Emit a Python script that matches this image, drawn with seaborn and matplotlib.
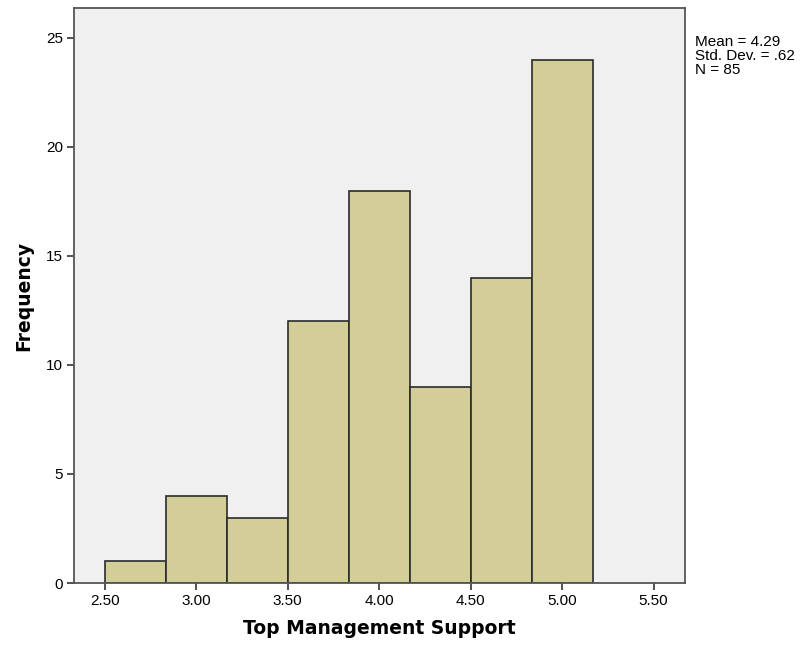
import numpy as np
import pandas as pd
import matplotlib
matplotlib.use("Agg")
import matplotlib.pyplot as plt
import seaborn as sns

# bin centres (width 1/3, starting at 2.50) and counts
bin_centres = [2.667, 3.0, 3.333, 3.667, 4.0, 4.333, 4.667, 5.0]
counts = [1, 4, 3, 12, 18, 9, 14, 24]
x_ticks = [2.5, 3.0, 3.5, 4.0, 4.5, 5.0, 5.5]
y_ticks = [0, 5, 10, 15, 20, 25]
stats_lines = ["Mean = 4.29", "Std. Dev. = .62", "N = 85"]

df = pd.DataFrame({"score": bin_centres, "n": counts})

sns.set_style("white")
plt.rcParams['font.family'] = ['Liberation Sans', 'DejaVu Sans']
plt.rcParams['text.color'] = 'black'
plt.rcParams['axes.labelcolor'] = 'black'
plt.rcParams['xtick.color'] = 'black'
plt.rcParams['ytick.color'] = 'black'

fig = plt.figure(figsize=(8.01, 6.45), dpi=100)
ax = fig.add_axes([0.0924, 0.0961, 0.7627, 0.8915])
ax.set_facecolor("#F0F0F0")

sns.histplot(data=df, x="score", weights="n", bins=8, binrange=(2.5, 5.0 + 1/6),
             color="#D3CE97", alpha=1, edgecolor="#2b2b2b", linewidth=1.2, ax=ax)

ax.set_xlim(2.332, 5.671)
ax.set_ylim(0, 26.37)
ax.set_xticks(x_ticks)
ax.set_xticklabels([f"{t:.2f}" for t in x_ticks])
ax.set_yticks(y_ticks)
ax.tick_params(axis="both", direction="out", length=5, width=1.2, color="#333333",
               labelsize=11, pad=3, bottom=True, left=True)
for s in ax.spines.values():
    s.set_color("#555555")
    s.set_linewidth(1.3)

ax.set_xlabel("Top Management Support", fontsize=13.5, fontweight="bold",
              family="DejaVu Sans", labelpad=8)
ax.set_ylabel("Frequency", fontsize=13.5, fontweight="bold",
              family="DejaVu Sans", labelpad=9)

fig.text(695 / 801, 1 - 35 / 645, "\n".join(stats_lines), fontsize=11,
         va="top", ha="left", linespacing=1.0)

fig.savefig("out.png", dpi=100)
